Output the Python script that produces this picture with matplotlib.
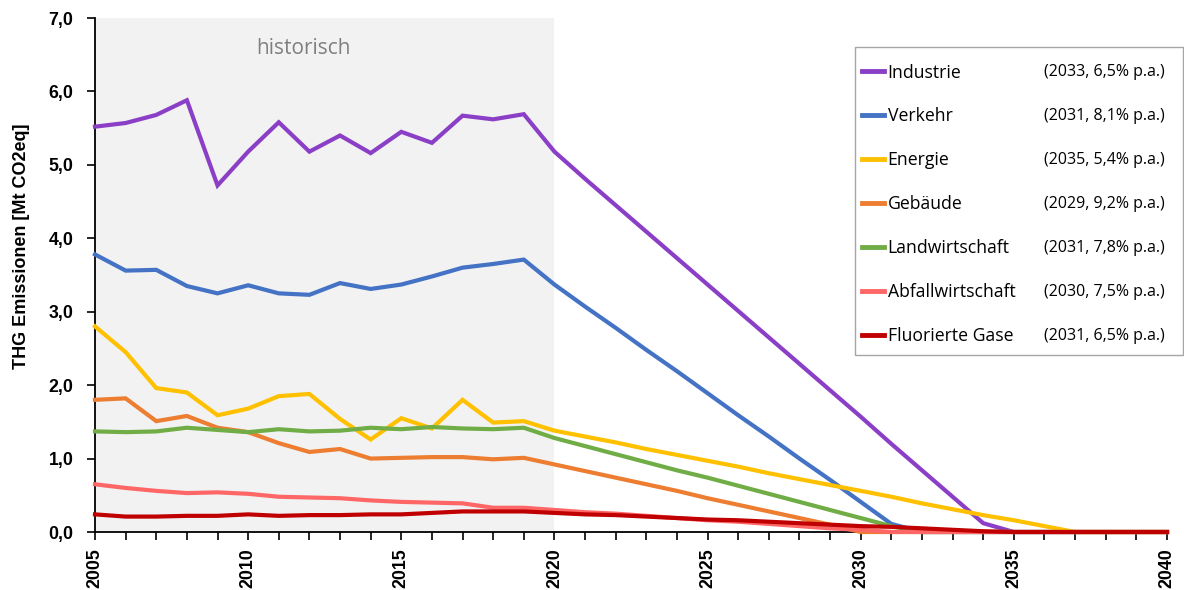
import numpy as np
import matplotlib
matplotlib.use('Agg')
import matplotlib.pyplot as plt
from matplotlib.lines import Line2D
from matplotlib.patches import Rectangle
from matplotlib.ticker import FuncFormatter, MultipleLocator

plt.rcParams['font.family'] = ['Open Sans', 'DejaVu Sans']
BOLD_FONT = ['Liberation Sans', 'DejaVu Sans']

# Werte (Mt CO2eq), 2005..2040
years = list(range(2005, 2041))

industrie = [5.52, 5.57, 5.68, 5.88, 4.72, 5.18, 5.58, 5.18, 5.40, 5.16,
             5.45, 5.30, 5.67, 5.62, 5.69, 5.18, 4.81, 4.45, 4.09, 3.73,
             3.37, 3.01, 2.65, 2.29, 1.93, 1.57, 1.20, 0.84, 0.48, 0.12,
             0.0, 0.0, 0.0, 0.0, 0.0, 0.0]
verkehr = [3.78, 3.56, 3.57, 3.35, 3.25, 3.36, 3.25, 3.23, 3.39, 3.31,
           3.37, 3.48, 3.60, 3.65, 3.71, 3.37, 3.07, 2.78, 2.48, 2.19,
           1.89, 1.59, 1.30, 1.00, 0.71, 0.41, 0.11, 0.0, 0.0, 0.0,
           0.0, 0.0, 0.0, 0.0, 0.0, 0.0]
energie = [2.80, 2.45, 1.96, 1.90, 1.59, 1.68, 1.85, 1.88, 1.54, 1.26,
           1.55, 1.41, 1.80, 1.49, 1.51, 1.38, 1.30, 1.22, 1.13, 1.05,
           0.97, 0.89, 0.80, 0.72, 0.64, 0.56, 0.48, 0.39, 0.31, 0.23,
           0.16, 0.08, 0.0, 0.0, 0.0, 0.0]
gebaeude = [1.80, 1.82, 1.51, 1.58, 1.42, 1.36, 1.21, 1.09, 1.13, 1.00,
            1.01, 1.02, 1.02, 0.99, 1.01, 0.92, 0.83, 0.74, 0.65, 0.56,
            0.46, 0.37, 0.28, 0.19, 0.10, 0.0, 0.0, 0.0, 0.0, 0.0,
            0.0, 0.0, 0.0, 0.0, 0.0, 0.0]
landwirtschaft = [1.37, 1.36, 1.37, 1.42, 1.39, 1.36, 1.40, 1.37, 1.38, 1.42,
                  1.40, 1.43, 1.41, 1.40, 1.42, 1.28, 1.17, 1.06, 0.95, 0.84,
                  0.74, 0.63, 0.52, 0.41, 0.30, 0.19, 0.08, 0.0, 0.0, 0.0,
                  0.0, 0.0, 0.0, 0.0, 0.0, 0.0]
abfall = [0.65, 0.60, 0.56, 0.53, 0.54, 0.52, 0.48, 0.47, 0.46, 0.43,
          0.41, 0.40, 0.39, 0.33, 0.33, 0.30, 0.27, 0.25, 0.22, 0.19,
          0.16, 0.14, 0.11, 0.08, 0.05, 0.03, 0.0, 0.0, 0.0, 0.0,
          0.0, 0.0, 0.0, 0.0, 0.0, 0.0]
fgase = [0.24, 0.21, 0.21, 0.22, 0.22, 0.24, 0.22, 0.23, 0.23, 0.24,
         0.24, 0.26, 0.28, 0.28, 0.28, 0.26, 0.24, 0.23, 0.21, 0.19,
         0.17, 0.16, 0.14, 0.12, 0.10, 0.08, 0.07, 0.05, 0.03, 0.01,
         0.0, 0.0, 0.0, 0.0, 0.0, 0.0]

sectors = ['Industrie', 'Verkehr', 'Energie', 'Gebäude', 'Landwirtschaft',
           'Abfallwirtschaft', 'Fluorierte Gase']
notes = ['(2033, 6,5% p.a.)', '(2031, 8,1% p.a.)', '(2035, 5,4% p.a.)',
         '(2029, 9,2% p.a.)', '(2031, 7,8% p.a.)', '(2030, 7,5% p.a.)',
         '(2031, 6,5% p.a.)']
series = [industrie, verkehr, energie, gebaeude, landwirtschaft, abfall, fgase]
colors = ['#8B3FC6', '#4472C4', '#FFC000', '#ED7D31', '#70AD47',
          '#FF6666', '#C00000']

W, H = 1184, 590
fig = plt.figure(figsize=(W / 100, H / 100), dpi=100)
ax = fig.add_axes([95 / W, 1 - 532 / H, 1072 / W, 514 / H])

ax.axvspan(2005, 2020, color='#F2F2F2', zorder=0, lw=0)
ax.text(2011.8, 6.59, 'historisch', ha='center', va='center',
        fontsize=15, color='#7F7F7F')

for vals, c in zip(series, colors):
    ax.plot(years, vals, color=c, lw=3.0, solid_joinstyle='miter',
            zorder=3, clip_on=False)

ax.set_xlim(2005, 2040)
ax.set_ylim(0, 7)
ax.xaxis.set_major_locator(MultipleLocator(5))
ax.xaxis.set_minor_locator(MultipleLocator(1))
ax.yaxis.set_major_locator(MultipleLocator(1))
ax.yaxis.set_major_formatter(FuncFormatter(lambda v, p: ('%.1f' % v).replace('.', ',')))
ax.tick_params(axis='both', which='both', direction='out', length=6,
               width=1.2, color='black')
ax.tick_params(axis='x', labelrotation=90, pad=5.5)
ax.tick_params(axis='y', pad=9.5)
for lab in ax.get_xticklabels() + ax.get_yticklabels():
    lab.set_fontweight('bold')
    lab.set_fontsize(12.8)
    lab.set_family(BOLD_FONT)

for side in ['top', 'right']:
    ax.spines[side].set_visible(False)
for side in ['left', 'bottom']:
    ax.spines[side].set_linewidth(1.3)

ax.set_ylabel('THG Emissionen [Mt CO2eq]', fontsize=13, fontweight='bold',
              family=BOLD_FONT)
ax.yaxis.set_label_coords((30 - 95) / 1072, (532 - 246) / 514)

# legend frame drawn separately so its size matches the original box
box = Rectangle((855 / W, 1 - 355 / H), 328 / W, 308 / H,
                transform=fig.transFigure, facecolor='white',
                edgecolor='#A6A6A6', lw=1.0, zorder=4, clip_on=False)
ax.add_patch(box)

handles = [Line2D([], [], color=c, lw=3.5) for c in colors]
leg = ax.legend(handles, sectors, loc='upper left',
                bbox_to_anchor=((862 - 95) / 1072, (532 - 63.5) / 514),
                borderaxespad=0, borderpad=0, fontsize=12.7,
                handlelength=1.25, handletextpad=0.2, labelspacing=1.47,
                frameon=False)
leg.set_zorder(5)

# notes next to the legend entries, aligned to each row
fig.canvas.draw()
inv = fig.transFigure.inverted()
for t, note in zip(leg.get_texts(), notes):
    bb = t.get_window_extent()
    yc = inv.transform((0, 0.5 * (bb.y0 + bb.y1)))[1]
    fig.text(1044 / W, yc, note, ha='left', va='center', fontsize=11.5,
             zorder=6)

fig.savefig('out.png', dpi=100)
